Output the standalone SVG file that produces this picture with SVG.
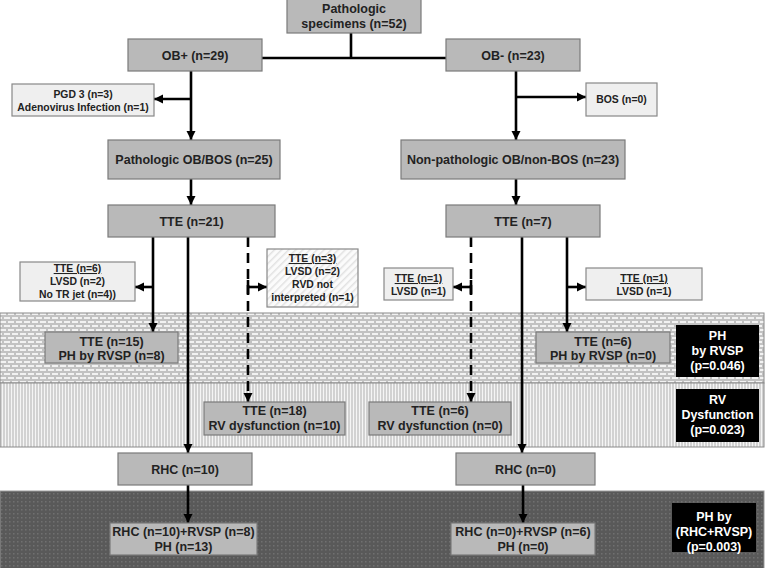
<svg xmlns="http://www.w3.org/2000/svg" width="766" height="568" viewBox="0 0 766 568">
<style>
text{font-family:"Liberation Sans",Arial,sans-serif;font-weight:bold;text-anchor:middle;fill:#222}
.g{fill:#b9b9b9;stroke:#7a7a7a;stroke-width:1.2}
.l{fill:#efefef;stroke:#888;stroke-width:1.2}
.h{fill:url(#hatch);stroke:#888;stroke-width:1.2}
.k{fill:#000}
.k text,text.w{fill:#fff}
.f11{font-size:12.5px}
.f9{font-size:10.4px}
.u{text-decoration:underline}
.c{stroke:#000;stroke-width:2.6;fill:none}
.a{marker-end:url(#arr)}
.d{stroke-dasharray:10 6}
</style>
<defs>
<marker id="arr" markerUnits="userSpaceOnUse" markerWidth="10" markerHeight="10" refX="9" refY="5" orient="auto">
<path d="M0,0.5 L9,5 L0,9.5 Z" fill="#000"/>
</marker>
<pattern id="brick2" width="8" height="8" patternUnits="userSpaceOnUse">
<rect width="8" height="8" fill="#c2c2c2"/>
<rect x="0" y="1" width="6" height="2" fill="#f2f2f2"/>
<rect x="4" y="5" width="6" height="2" fill="#f2f2f2"/>
<rect x="-4" y="5" width="6" height="2" fill="#f2f2f2"/>
</pattern>
<pattern id="vstripe" width="3" height="4" patternUnits="userSpaceOnUse">
<rect width="3" height="4" fill="#f5f5f5"/>
<rect width="2" height="4" fill="#d2d2d2"/>
</pattern>
<pattern id="dark" width="4" height="4" patternUnits="userSpaceOnUse">
<rect width="4" height="4" fill="#595959"/>
<rect x="1" y="1" width="1.5" height="1.5" fill="#707070"/>
</pattern>
<pattern id="hatch" width="5" height="5" patternUnits="userSpaceOnUse" patternTransform="rotate(45)">
<rect width="5" height="5" fill="#fbfbfb"/>
<rect width="1.5" height="5" fill="#e2e2e2"/>
</pattern>
</defs>
<rect width="766" height="568" fill="#fff"/>
<g id="bands">
<rect x="0" y="313" width="764" height="70" fill="url(#brick2)" stroke="#8a8a8a" stroke-width="1"/>
<rect x="0" y="383" width="764" height="64" fill="url(#vstripe)" stroke="#8a8a8a" stroke-width="1"/>
<rect x="0" y="491" width="764" height="78" fill="url(#dark)" stroke="#999" stroke-width="1"/>
</g>
<g id="connectors">
<path class="c" d="M351,33 V58 M262,58 H446"/>
<path class="c a" d="M191,71 V140"/>
<path class="c a" d="M191,99 H154"/>
<path class="c a" d="M516,71 V140"/>
<path class="c a" d="M516,97 H586"/>
<path class="c a" d="M191,179 V205"/>
<path class="c a" d="M516,179 V205"/>
<path class="c a" d="M153,237 V332"/>
<path class="c a" d="M153,287 H135"/>
<path class="c a" d="M188,237 V453"/>
<path class="c d a" d="M248,237 V402"/>
<path class="c" d="M248,280 V294"/>
<path class="c a" d="M248,287 H267"/>
<path class="c d a" d="M471,237 V402"/>
<path class="c" d="M471,280 V294"/>
<path class="c a" d="M471,287 H453"/>
<path class="c a" d="M522,237 V453"/>
<path class="c a" d="M567,237 V332"/>
<path class="c a" d="M567,287 H586"/>
<path class="c a" d="M188,485 V523"/>
<path class="c a" d="M523,485 V523"/>
</g>
<g id="n-specimens"><rect class="g" x="287" y="-1" width="134" height="34"/><text class="f11" x="354" y="13">Pathologic</text><text class="f11" x="354" y="28">specimens (n=52)</text></g>
<g id="n-obplus"><rect class="g" x="128" y="39" width="134" height="32"/><text class="f11" x="195" y="60">OB+ (n=29)</text></g>
<g id="n-obminus"><rect class="g" x="446" y="39" width="134" height="32"/><text class="f11" x="513" y="60">OB- (n=23)</text></g>
<g id="n-pgd"><rect class="l" x="12" y="84" width="142" height="32"/><text class="f9" x="83" y="98">PGD 3 (n=3)</text><text class="f9" x="83" y="111">Adenovirus Infection (n=1)</text></g>
<g id="n-bos"><rect class="l" x="586" y="83" width="71" height="33"/><text class="f9" x="621.5" y="103">BOS (n=0)</text></g>
<g id="n-pathob"><rect class="g" x="108" y="140" width="172" height="39"/><text class="f11" x="194" y="164">Pathologic OB/BOS (n=25)</text></g>
<g id="n-nonpath"><rect class="g" x="401" y="140" width="224" height="39"/><text class="f11" x="513" y="164">Non-pathologic OB/non-BOS (n=23)</text></g>
<g id="n-tte21"><rect class="g" x="108" y="205" width="167" height="32"/><text class="f11" x="191.5" y="226">TTE (n=21)</text></g>
<g id="n-tte7"><rect class="g" x="446" y="205" width="154" height="32"/><text class="f11" x="523" y="226">TTE (n=7)</text></g>
<g id="n-tte6ex"><rect class="l" x="20" y="262" width="115" height="39"/><text class="f9 u" x="77.5" y="272">TTE (n=6)</text><text class="f9" x="77.5" y="285">LVSD (n=2)</text><text class="f9" x="77.5" y="298">No TR jet (n=4))</text></g>
<g id="n-tte3ex"><rect class="h" x="267" y="249" width="91" height="58"/><text class="f9 u" x="312.5" y="262">TTE (n=3)</text><text class="f9" x="312.5" y="275">LVSD (n=2)</text><text class="f9" x="312.5" y="288">RVD not</text><text class="f9" x="312.5" y="301">interpreted (n=1)</text></g>
<g id="n-tte1exL"><rect class="l" x="384" y="268" width="69" height="32"/><text class="f9 u" x="418.5" y="282">TTE (n=1)</text><text class="f9" x="418.5" y="295">LVSD (n=1)</text></g>
<g id="n-tte1exR"><rect class="l" x="586" y="268" width="116" height="32"/><text class="f9 u" x="644" y="282">TTE (n=1)</text><text class="f9" x="644" y="295">LVSD (n=1)</text></g>
<g id="n-tte15"><rect class="g" x="45" y="332" width="133" height="31"/><text class="f11" x="111.5" y="346">TTE (n=15)</text><text class="f11" x="111.5" y="360">PH by RVSP (n=8)</text></g>
<g id="n-tte6ph"><rect class="g" x="536" y="332" width="134" height="31"/><text class="f11" x="603" y="346">TTE (n=6)</text><text class="f11" x="603" y="360">PH by RVSP (n=0)</text></g>
<g id="n-phrvsp" class="k"><rect x="676" y="325" width="83" height="52"/><text class="f11 w" x="717.5" y="340">PH</text><text class="f11 w" x="717.5" y="355">by RVSP</text><text class="f11 w" x="717.5" y="370">(p=0.046)</text></g>
<g id="n-tte18"><rect class="g" x="204" y="402" width="141" height="33"/><text class="f11" x="274.5" y="415">TTE (n=18)</text><text class="f11" x="274.5" y="430">RV dysfunction (n=10)</text></g>
<g id="n-tte6rv"><rect class="g" x="369" y="402" width="142" height="33"/><text class="f11" x="440" y="415">TTE (n=6)</text><text class="f11" x="440" y="430">RV dysfunction (n=0)</text></g>
<g id="n-rvdys" class="k"><rect x="676" y="389" width="83" height="53"/><text class="f11 w" x="717.5" y="404">RV</text><text class="f11 w" x="717.5" y="419">Dysfunction</text><text class="f11 w" x="717.5" y="434">(p=0.023)</text></g>
<g id="n-rhc10"><rect class="g" x="118" y="453" width="134" height="32"/><text class="f11" x="185" y="474">RHC (n=10)</text></g>
<g id="n-rhc0"><rect class="g" x="456" y="453" width="139" height="32"/><text class="f11" x="525.5" y="474">RHC (n=0)</text></g>
<g id="n-rhcrvsp10"><rect class="g" x="110" y="523" width="147" height="32"/><text class="f11" x="183.5" y="536">RHC (n=10)+RVSP (n=8)</text><text class="f11" x="183.5" y="551">PH (n=13)</text></g>
<g id="n-rhcrvsp0"><rect class="g" x="451" y="523" width="144" height="32"/><text class="f11" x="523" y="536">RHC (n=0)+RVSP (n=6)</text><text class="f11" x="523" y="551">PH (n=0)</text></g>
<g id="n-phrhc" class="k"><rect x="672" y="503" width="84" height="49"/><text class="f11 w" x="714" y="521">PH by</text><text class="f11 w" x="714" y="536">(RHC+RVSP)</text><text class="f11 w" x="714" y="551">(p=0.003)</text></g>
</svg>
